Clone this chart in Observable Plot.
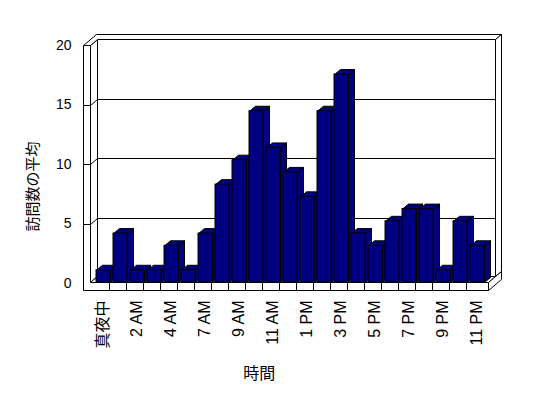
<!DOCTYPE html>
<html>
<head>
<meta charset="utf-8">
<script src="https://cdn.jsdelivr.net/npm/d3@7"></script>
<script src="https://cdn.jsdelivr.net/npm/@observablehq/plot@0.6"></script>
<style>
  html, body { margin: 0; padding: 0; background: #fff; }
</style>
</head>
<body>
<div id="chart"></div>
<script>
// ---- data ----
const hours = ["真夜中", "1 AM", "2 AM", "3 AM", "4 AM", "6 AM", "7 AM", "8 AM", "9 AM", "10 AM", "11 AM", "12 PM",
               "1 PM", "2 PM", "3 PM", "4 PM", "5 PM", "6 PM", "7 PM", "8 PM", "9 PM", "10 PM", "11 PM"];
const visits = [1, 4, 1, 1, 3, 1, 4, 8, 10, 14, 11, 9, 7, 14, 17, 4, 3, 5, 6, 6, 1, 5, 3];
const labelTicks = hours.filter((_, i) => i % 2 === 0);
const yTicks = [0, 5, 10, 15, 20];
const yTitle = "訪問数の平均";
const xTitle = "時間";

const data = hours.map((h, i) => ({hour: h, value: visits[i]}));

// ---- style ----
const NAVY = "#000080";
const FRONT_K = 1.028;     // slight perspective stretch of the bars' front faces
const WALL_D = [7, -6];    // depth offset front plane -> back wall
const WALL_T = [6, -5];    // wall slab thickness
const BAR_D = [6, -5];     // bar depth offset

const R = (v) => Math.round(v);

function frameMark(index, scales) {
  const {x, y} = scales;
  const [x0, x1] = x.range();
  const step = x.step ? x.step() : (x1 - x0) / hours.length;
  const Y0 = y(0), Ytop = y(d3.max(yTicks));
  const floorTop = Y0 - 1, floorBot = Y0 + 7;
  const xL = x0 - 9, xLi = x0 - 2;
  const bx0 = xLi + WALL_D[0], bx1 = x1 + WALL_D[0];
  const by0 = Ytop + WALL_D[1], by1 = floorTop + WALL_D[1];
  const g = d3.create("svg:g")
    .attr("fill", "white").attr("stroke", "black").attr("stroke-width", 1)
    .attr("transform", "translate(0.5,0.5)");
  const poly = (pts) => g.append("polygon").attr("points", pts.map(p => R(p[0]) + "," + R(p[1])).join(" "));
  const line = (a, b) => g.append("line").attr("x1", R(a[0])).attr("y1", R(a[1])).attr("x2", R(b[0])).attr("y2", R(b[1]));
  const inner = yTicks.filter(v => v > 0 && v < d3.max(yTicks));

  // back wall inner face + gridlines
  poly([[bx0, by0], [bx1, by0], [bx1, by1], [bx0, by1]]);
  for (const v of inner) line([bx0, y(v) + WALL_D[1]], [bx1, y(v) + WALL_D[1]]);
  // left wall inner face + diagonal gridlines
  poly([[xLi, Ytop], [bx0, by0], [bx0, by1], [xLi, floorTop]]);
  for (const v of inner) line([xLi, y(v)], [bx0, y(v) + WALL_D[1]]);
  // top cap of walls
  poly([[xL, Ytop], [xLi, Ytop], [bx0, by0], [bx1, by0], [bx1 + WALL_T[0], by0 + WALL_T[1]],
        [xL + WALL_D[0] + WALL_T[0], by0 + WALL_T[1]]]);
  // right edge strip of back wall
  poly([[bx1, by0], [bx1 + WALL_T[0], by0 + WALL_T[1]], [bx1 + WALL_T[0], by1 + WALL_T[1]], [bx1, by1]]);
  // floor top face
  poly([[xLi, floorTop], [x1, floorTop], [bx1, by1], [bx0, by1]]);
  // L-shaped front edge (left wall + floor)
  poly([[xL, Ytop], [xLi, Ytop], [xLi, floorTop], [x1, floorTop], [x1, floorBot], [xL, floorBot]]);
  for (const v of inner) line([xL, y(v)], [xLi, y(v)]);
  for (let i = 1; i < hours.length; i++) line([x0 + i * step, floorTop], [x0 + i * step, floorBot]);
  // floor right face
  poly([[x1, floorTop], [x1, floorBot],
        [x1 + WALL_D[0] + WALL_T[0], floorBot + WALL_D[1] + WALL_T[1]],
        [x1 + WALL_D[0] + WALL_T[0], floorTop + WALL_D[1] + WALL_T[1]]]);
  return g.node();
}

function barDepthMark(index, scales) {
  const {x, y} = scales;
  const bw = x.bandwidth();
  const Y0 = y(0), floorTop = Y0 - 1;
  const g = d3.create("svg:g")
    .attr("fill", NAVY).attr("stroke", "black").attr("stroke-width", 1)
    .attr("transform", "translate(0.5,0.5)");
  const poly = (pts) => g.append("polygon").attr("points", pts.map(p => p.join(",")).join(" "));
  for (const d of data) {
    const xl = x(d.hour), xr = xl + bw;
    const yt = floorTop - (Y0 - y(d.value)) * FRONT_K;
    poly([[xr, yt], [xr + BAR_D[0], yt + BAR_D[1]], [xr + BAR_D[0], floorTop + BAR_D[1]], [xr, floorTop]]);
    poly([[xl, yt], [xr, yt], [xr + BAR_D[0], yt + BAR_D[1]], [xl + BAR_D[0], yt + BAR_D[1]]]);
  }
  return g.node();
}

const FONT = "'Liberation Sans', Arial, 'Noto Sans CJK JP', sans-serif";

const chart = Plot.plot({
  width: 548,
  height: 398,
  marginLeft: 92,
  marginRight: 60.5,
  marginTop: 45,
  marginBottom: 115,
  style: {fontFamily: FONT, fontSize: "14px", background: "white", color: "black"},
  x: {domain: hours, paddingInner: 0.16, paddingOuter: 0.08, label: null, axis: null},
  y: {domain: [0, 20], label: null},
  marks: [
    frameMark,
    barDepthMark,
    Plot.barY(data, {x: "hour", y: "value", fill: NAVY, stroke: "black", strokeWidth: 1, ariaLabel: "bar-front"}),
    Plot.axisY({ticks: yTicks, tickSize: 0, tickPadding: 21, label: null, fontSize: 14, fill: "black"}),
    Plot.text(labelTicks, {x: d => d, text: d => d, frameAnchor: "bottom", rotate: -90,
                           textAnchor: "end", lineAnchor: "middle", dx: -1, dy: 17, fontSize: 16, fill: "black",
                           ariaLabel: "x-axis tick label"}),
    Plot.text([yTitle], {text: d => d, frameAnchor: "left", rotate: -90, dx: -59, dy: 67, fontSize: 15, fill: "black"}),
    Plot.text([xTitle], {text: d => d, frameAnchor: "bottom", dx: -31, dy: 95, fontSize: 16, fill: "black"})
  ]
});

// stretch the front faces slightly (Excel-like perspective), keeping them on the floor edge
(function () {
  const ys = chart.scale("y");
  const Y0 = ys.apply(0), floorTop = Y0 - 1;
  const groups = Array.from(chart.querySelectorAll("g")).filter(g =>
    g.getAttribute("aria-label") === "bar-front" ||
    (g.querySelector(":scope > rect") && (g.getAttribute("fill") || "").toLowerCase() === NAVY));
  for (const g of groups) {
    const prev = g.getAttribute("transform") || "";
    g.setAttribute("transform", `matrix(1,0,0,${FRONT_K},0,${floorTop - Y0 * FRONT_K}) ${prev}`);
  }
})();

document.getElementById("chart").appendChild(chart);
</script>
</body>
</html>
